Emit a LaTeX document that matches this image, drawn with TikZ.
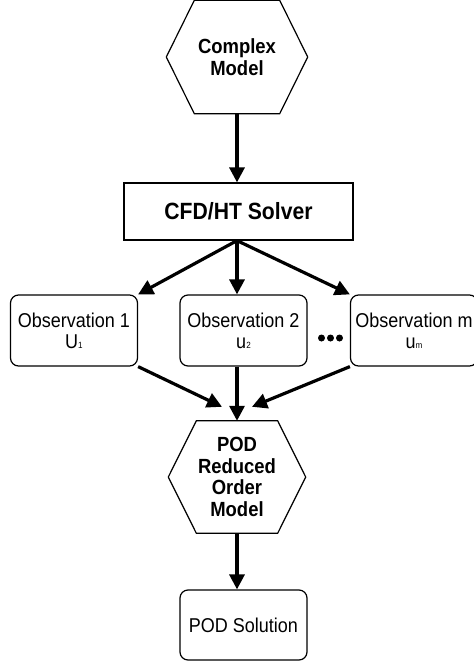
\documentclass[tikz,border=0pt]{standalone}
\usepackage{fontspec}
\setmainfont{Liberation Sans}[FakeStretch=0.9]
\usetikzlibrary{calc,arrows.meta}
\def\hexframe(#1:#2){\draw[line width=1.2pt] (#1.west) -- ($(#1.north west)+(#2,0)$) -- ($(#1.north east)-(#2,0)$) -- (#1.east) -- ($(#1.south east)-(#2,0)$) -- ($(#1.south west)+(#2,0)$) -- cycle;}
\newcommand{\obsidx}[1]{{\fontsize{9}{9}\selectfont #1}}

\begin{document}
\begin{tikzpicture}[x=1pt,y=-1pt,
	hexbox/.style={minimum width=141pt,minimum height=113pt,inner sep=0pt,align=center,font=\fontsize{20.5}{21.5}\selectfont\bfseries},
	obsbox/.style={draw,line width=1.2pt,rounded corners=8pt,minimum width=127pt,minimum height=71pt,inner sep=0pt,align=center,font=\fontsize{20}{21}\selectfont},
	flow/.style={line width=3.2pt,-{Triangle[length=15pt,width=15pt]}}]
			%%%%% START %%%%%
			\useasboundingbox (0,0) rectangle (474,665);
			
			\node[hexbox] (cm) at (237,57) {Complex\\Model};
			\hexframe(cm:28)
			
			\node[draw,line width=1.2pt,minimum width=229pt,minimum height=57pt,font=\fontsize{23.5}{24}\selectfont\bfseries] (solver) at (238.5,211.5) {CFD/HT Solver};
			
			\node[obsbox] (obs1) at (74,330.5) {Observation 1\\U\obsidx{1}};
			\node[obsbox] (obs2) at (243.5,330.5) {Observation 2\\u\obsidx{2}};
			\node[obsbox] (obsm) at (414,330.5) {Observation m\\u\obsidx{m}};
			
			\node (dots) at (330.5,338) {};
			\foreach \dx in {-9,0,9}
				\fill ($(dots)+(\dx,0)$) circle (3.5pt);
			
			\node[hexbox,minimum width=137pt,minimum height=112pt] (pod) at (237,477) {POD\\Reduced\\Order\\Model};
			\hexframe(pod:28)
			
			\node[obsbox,minimum height=70pt] (sol) at (243.5,625) {POD Solution};
			
			\coordinate (fork) at (cm.south |- solver.south);
			\coordinate (podl) at ($(pod.north)+(-15,-14)$);
			\coordinate (podr) at ($(pod.north)+(15,-14)$);
			
			\draw[flow] (cm.south) -- (cm.south |- solver.north);
			\draw[flow] (fork) -- (obs1.north east);
			\draw[flow] (fork) -- (cm.south |- obs2.north);
			\draw[flow] (fork) -- (obsm.north west);
			
			\draw[flow] (obs1.south east) -- (podl);
			\draw[flow] (cm.south |- obs2.south) -- (pod.north);
			\draw[flow] (obsm.south west) -- (podr);
			
			\draw[flow] (pod.south) -- (pod.south |- sol.north);
			%%%%% END %%%%%
\end{tikzpicture}
\end{document}
